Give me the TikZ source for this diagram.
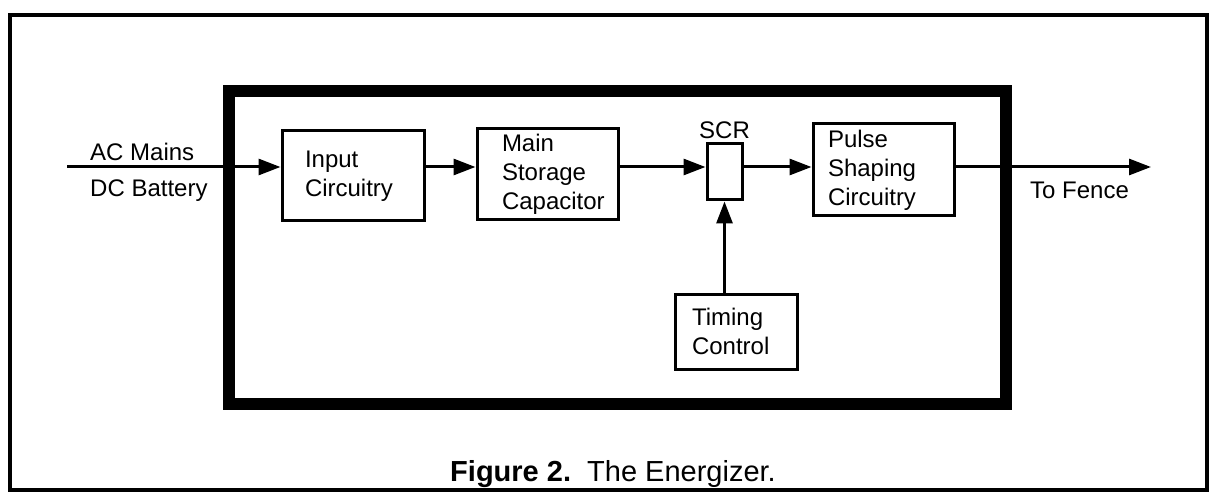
\documentclass[tikz,border=0pt]{standalone}
\usepackage{fontspec}
\setmainfont{Liberation Sans}
\usetikzlibrary{arrows.meta, positioning}

\begin{document}
\begin{tikzpicture}[x=1pt, y=-1pt,
    blk/.style={draw, line width=3pt, align=left, inner ysep=0pt,
                font=\fontsize{24}{29}\selectfont},
    lbl/.style={inner sep=0pt, anchor=base west, font=\fontsize{24}{29}\selectfont},
    flow/.style={line width=3pt, -{Triangle[length=22pt, width=16pt]}}]
  \useasboundingbox (0,0) rectangle (1210,497);

  % frame and energizer housing
  \draw[line width=4pt] (10,15) rectangle (1207,490);
  \draw[line width=12pt] (229,91) rectangle (1006,404);

  % blocks
  \node[blk, inner xsep=23pt, text width=96pt, minimum height=90pt] (inp) at (353,176)
    {Input\\Circuitry};
  \node[blk, inner xsep=25pt, text width=91pt, minimum height=91pt] (stor) at (547.5,174.5)
    {Main\\Storage\\Capacitor};
  \node[draw, line width=3pt, minimum width=35pt, minimum height=56pt, inner sep=0pt] (scr) at (724.5,172) {};
  \node[inner sep=1pt, above=3pt of scr, font=\fontsize{24}{29}\selectfont] (scrlbl) {SCR};
  \node[blk, inner xsep=15pt, text width=111pt, minimum height=92pt] (pulse) at (883.5,170)
    {Pulse\\Shaping\\Circuitry};
  \node[blk, inner xsep=17pt, text width=88pt, minimum height=75pt] (timing) at (736,331.5)
    {Timing\\Control};

  % inputs and output
  \coordinate (lvl) at (0,167);
  \coordinate (src) at (67,167);
  \coordinate (fence) at (1151,167);
  \node[lbl] (mains) at (90,161) {AC Mains};
  \node[lbl] (batt) at (90,197) {DC Battery};
  \node[lbl] (tofence) at (1030,199) {To Fence};

  % connectors
  \draw[flow] (src) -- (inp.west |- lvl);
  \draw[flow] (inp.east |- lvl) -- (stor.west |- lvl);
  \draw[flow] (stor.east |- lvl) -- (scr.west |- lvl);
  \draw[flow] (scr.east |- lvl) -- (pulse.west |- lvl);
  \draw[flow] (pulse.east |- lvl) -- (fence);
  \draw[flow] (scr.south |- timing.north) -- (scr.south);

  \node[font=\fontsize{29}{33}\selectfont, anchor=base] (cap) at (613,481)
    {\textbf{Figure 2.}\ \ The Energizer.};
\end{tikzpicture}
\end{document}
